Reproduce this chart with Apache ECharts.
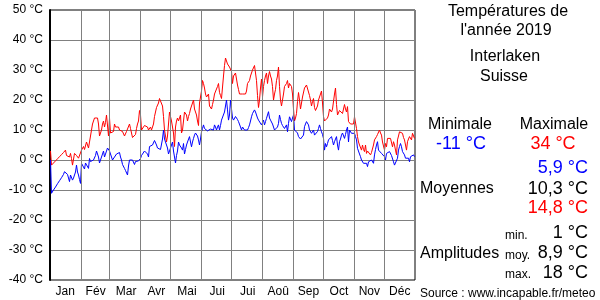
<!DOCTYPE html>
<html>
<head>
<meta charset="utf-8">
<script src="https://cdn.jsdelivr.net/npm/echarts@6/dist/echarts.min.js"></script>
<style>
html,body{margin:0;padding:0;background:#fff;}
#c{width:600px;height:300px;}
</style>
</head>
<body>
<div id="c"></div>
<script>
const months = ['Jan','Fév','Mar','Avr','Mai','Jui','Jui','Aoû','Sep','Oct','Nov','Déc'];
const monthLengths = [31,28,31,30,31,30,31,31,30,31,30,31];
const yTicks = [-40,-30,-20,-10,0,10,20,30,40,50];

const maxTemps = [
// Jan
3,-1.7,-1.3,-1,-0.6,-0.3,0,0.4,0.8,1.1,1.5,1.8,2.2,2.5,2.9,3.3,1.5,1.5,1.2,1,2.2,0.5,-1.7,-1.7,2.2,2.2,1.5,1.7,0.6,0.6,0,
// Feb
3.3,3.3,4.5,3.5,4,6,5.5,4,4.2,8,10,12,12.5,14,14.5,13.8,14,12,8,9,10,12,13,11,12.5,15,15.5,8,
// Mar
14,9,9,8.5,9.5,12,11,11,11.5,11,10,10.5,9.5,9.5,9,8,8.5,9.5,9,10,12,10.5,9,7.5,7,7,8.5,10.5,12,13,16.5,
// Apr
15,10,10.5,10,11.5,12,11.5,11,10,10.5,11,10,11,12,14.5,16,17.5,17.5,19,20.5,21,20.5,18,14.5,10,8,6,8,12,16,
// May
15.5,13,11,9,4.5,11,13,14,13,14,15,9,10,10.5,16,15.5,15,13,14.5,15.5,17,18,19,20,17,16,15,13,11.5,19,21,
// Jun
23,26.5,25.5,24,22,21,20.5,22,18,17.5,17,18.5,20,22,22,22.5,24.5,25.5,22.5,21.5,20.5,20,28,31.5,34,33,32,31.5,31,31,
// Jul
29.5,25.5,28,28.5,29,27,25,23.5,22,22.5,22.5,22,22,21.5,22,23,25.5,26,26.5,28,29,30,30.5,31.5,29,26.5,21.5,17.5,20,24,27,
// Aug
21,24.5,26.5,28,29,25.5,28,29.5,28,27,24.5,20,22,23.5,26.5,28,31,24.5,20,18,17.5,22,24.5,25,25.5,26.5,24,25.5,25,24.5,22,
// Sep
17,13,14,15.5,19.5,22.5,20,17,19,21,21.5,24,24.5,25,24.5,24.5,21.5,20,18,19.5,20.5,17.5,16.5,16,18,20,21,22,23,19,
// Oct
14.5,13,13.5,13.5,14,15,17,16.5,16,17,17,22,24,18.5,15,15.5,16.5,16,16,15.5,15,18.5,17,16,17.8,12.8,12.5,12,11.8,11.7,12,
// Nov
14.4,14,10.5,7.8,6,5,4.4,3.3,5,3.5,2.8,5,2.2,3,3.3,3.3,1.7,2.5,2.8,5,6.7,7,7.8,8.5,8.9,10,9,8.3,6,5.5,
// Dec
3.3,5.5,4.4,7.2,7.8,7.5,7.2,7.8,4.4,6.1,5,3.3,1.7,6.7,8,9.4,10,9.4,8.9,7.5,6.7,6.1,3.3,6.1,7,7.8,8.3,6.7,8.9,8.9,7.2
];

const minTemps = [
// Jan
0,-11.1,-10.5,-10,-9.5,-9,-8.4,-7.9,-7.4,-6.9,-6.4,-5.9,-5.3,-4.8,-3.9,-4.2,-4.5,-4.8,-5,-7.2,-5,-5.5,-6.7,-6,-6.1,-4,-1.7,-4,-5,-6.5,-7.8,
// Feb
-1.1,-1,-1.5,-3,-1,-1,-1.5,-2.8,0.5,-0.5,-1,0,0,0,1.5,3,2,1,-1,0,1,2,3,1,1,1,4,4,
// Mar
3,2,1,0,-0.5,1,1.5,2,2.5,2.5,2.5,1,0,-1.5,-2,-2.8,-3.5,-4,-5,-2,0,0,0,0,-0.5,-1.5,-0.5,0,-0.5,-0.3,0,
// Apr
0.5,1.5,2,2,3,3,3,2,1,4.5,4.5,4,5,5.5,6.5,6,5,4,3.5,3.5,3.5,3.5,7,10,7,7,6.5,4,2,2.5,
// May
4,5,6,3,1,-1,1.5,3,6,5,4.5,4,3.3,5.5,2,3.5,5,6,6.5,7.8,6,4.4,6,7.2,8.3,9,9.4,8,6.7,5,7,
// Jun
9.4,10.5,11.7,10.5,10,10,9.7,9.4,10,10.3,10.5,10,10,11.7,11,10,11,11.7,10,11.5,13.3,12.8,13,16,18,20,16.7,13.3,15,20,
// Jul
17,14,13.3,13.9,14.5,15,13.5,12.8,12.8,11,10,11,10.5,10,10.3,10.5,10,10.8,11.7,13,14.4,15.5,16,16.7,16,15,14,13.3,13.9,12.8,11.7,
// Aug
12.5,13.3,11.7,12.8,13.9,15,16.1,14,13.3,12.8,12,11.7,10,9.8,9.4,11,12.2,15,13.5,12.2,11.5,11.1,10.5,11,11.7,9.4,12.2,14.4,13.9,12.8,14,
// Sep
15,10,10.2,10.5,9,7.8,7.2,7,6.7,7.5,8.3,11.1,12,12.8,12.2,11.7,10,9.5,8.9,9.5,10,8.3,8,7.8,9.5,10.5,11.7,10.5,9.4,8.5,
// Oct
7.2,3.3,5.5,4.4,5.5,6.7,6.1,7,7.8,6.5,5,6.1,7,7.8,5,3.3,6.1,7,8.3,9,9.4,7.2,8.5,10,11,6,10,9.5,8.9,8.5,8.3,
// Nov
8.9,7.8,6.7,3.9,3.3,2,1.1,0,-0.5,-1.1,-1.7,-1.4,-1.1,-2.2,-0.6,-0.3,0,0,-0.5,-1.1,1.7,3.5,5,6.1,3.3,3.6,3.9,2.2,2.8,1.7,
// Dec
1.1,0,2.2,1.9,1.7,2.8,2.2,1.5,1.1,-0.6,-1.7,-1.3,-1.1,0.6,3.3,4.5,5.5,4.4,2.8,2.2,1.7,0.6,1.1,0.8,0.6,-0.6,1.1,0.8,0.6,1.7,1.1
];

const titleLines = ['Températures de', "l'année 2019", 'Interlaken', 'Suisse'];
const extremeHeaders = ['Minimale', 'Maximale'];
const extremeValues = ['-11 °C', '34 °C'];
const meanValues = ['5,9 °C', '10,3 °C', '14,8 °C'];
const amplitudeLabels = ['min.', 'moy.', 'max.'];
const amplitudeValues = ['1 °C', '8,9 °C', '18 °C'];
const sourceText = 'Source : www.incapable.fr/meteo';

// month boundaries (cumulative days)
const monthBounds = [];
let acc = 0;
for (let i = 0; i < monthLengths.length - 1; i++) { acc += monthLengths[i]; monthBounds.push(acc); }

const FONT = '"Liberation Sans", Arial, sans-serif';
const BLUE = '#0000ff', RED = '#ff0000', BLACK = '#000000';

function txt(x, y, text, size, color, align) {
  return {
    type: 'text', x: x, y: y, silent: true,
    style: { text: text, fill: color, font: size + 'px ' + FONT, textAlign: align, verticalAlign: 'middle' }
  };
}

const graphics = [
  txt(508, 12, titleLines[0], 16, BLACK, 'center'),
  txt(506, 31, titleLines[1], 16, BLACK, 'center'),
  txt(505, 57, titleLines[2], 16, BLACK, 'center'),
  txt(504, 77, titleLines[3], 16, BLACK, 'center'),
  txt(460, 125, extremeHeaders[0], 16, BLACK, 'center'),
  txt(554, 125, extremeHeaders[1], 16, BLACK, 'center'),
  txt(461, 144, extremeValues[0], 18, BLUE, 'center'),
  txt(553, 144, extremeValues[1], 18, RED, 'center'),
  txt(588, 168, meanValues[0], 18, BLUE, 'right'),
  txt(420, 189, 'Moyennes', 16, BLACK, 'left'),
  txt(588, 189, meanValues[1], 18, BLACK, 'right'),
  txt(588, 208, meanValues[2], 18, RED, 'right'),
  txt(505, 236, amplitudeLabels[0], 12, BLACK, 'left'),
  txt(588, 233, amplitudeValues[0], 18, BLACK, 'right'),
  txt(420, 254, 'Amplitudes', 16, BLACK, 'left'),
  txt(505, 256, amplitudeLabels[1], 12, BLACK, 'left'),
  txt(588, 253, amplitudeValues[1], 18, BLACK, 'right'),
  txt(505, 275, amplitudeLabels[2], 12, BLACK, 'left'),
  txt(588, 273, amplitudeValues[2], 18, BLACK, 'right'),
  txt(420, 294, sourceText, 12, BLACK, 'left')
];

const chart = echarts.init(document.getElementById('c'), null, { renderer: 'canvas' });
chart.setOption({
  animation: false,
  backgroundColor: '#ffffff',
  grid: { left: 50, top: 10, width: 365, height: 270, show: true, borderColor: '#000', borderWidth: 1, backgroundColor: 'transparent' },
  xAxis: [
    { type: 'value', min: 0, max: 365, axisLine: { show: false }, axisTick: { show: false }, axisLabel: { show: false }, splitLine: { show: false } },
    { type: 'category', data: months, position: 'bottom', boundaryGap: true, axisLine: { show: false }, axisTick: { show: false }, splitLine: { show: false },
      axisLabel: { color: '#000', fontSize: 12, fontFamily: FONT, margin: 6 } }
  ],
  yAxis: {
    type: 'value', min: -40, max: 50, interval: 10,
    axisLine: { show: true, lineStyle: { color: '#000', width: 2 } }, axisTick: { show: false },
    axisLabel: { formatter: '{value} °C', color: '#000', fontSize: 12, fontFamily: FONT, margin: 7 },
    splitLine: { show: true, lineStyle: { color: '#808080', width: 1 } }
  },
  graphic: graphics,
  series: [
    { type: 'line', xAxisIndex: 0, data: [], silent: true, z: 1,
      markLine: { silent: true, symbol: 'none', label: { show: false }, animation: false,
        lineStyle: { color: '#808080', width: 1, type: 'solid' },
        data: monthBounds.map(b => ({ xAxis: b })) } },
    { name: 'max', type: 'line', xAxisIndex: 0, z: 3, showSymbol: false, symbol: 'none',
      lineStyle: { color: RED, width: 1 }, itemStyle: { color: RED },
      data: maxTemps.map((v, i) => [i + 0.5, v]) },
    { name: 'min', type: 'line', xAxisIndex: 0, z: 3, showSymbol: false, symbol: 'none',
      lineStyle: { color: BLUE, width: 1 }, itemStyle: { color: BLUE },
      data: minTemps.map((v, i) => [i + 0.5, v]) }
  ]
});
</script>
</body>
</html>
